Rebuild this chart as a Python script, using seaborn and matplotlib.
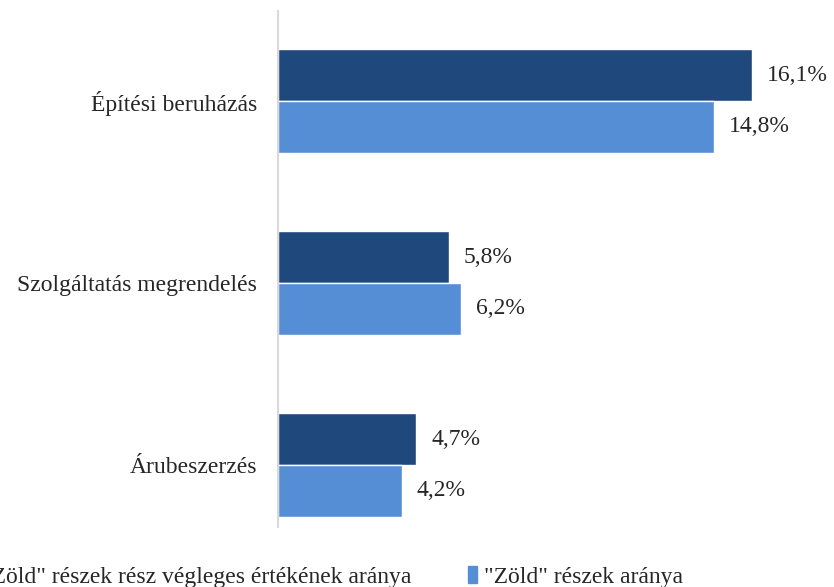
import matplotlib
matplotlib.use("Agg")
import matplotlib.pyplot as plt
import seaborn as sns
import pandas as pd

categories = ["Építési beruházás", "Szolgáltatás megrendelés", "Árubeszerzés"]
series = ['"Zöld" részek rész végleges értékének aránya', '"Zöld" részek aránya']
final_share = [16.1, 5.8, 4.7]
green_share = [14.8, 6.2, 4.2]
colors = ["#1F497D", "#558ED5"]

df = pd.DataFrame({
    "cat": categories * 2,
    "val": final_share + green_share,
    "series": [series[0]] * 3 + [series[1]] * 3,
})

sns.set_style("white")
plt.rcParams["font.family"] = ["Liberation Serif", "DejaVu Serif"]

fig = plt.figure(figsize=(8.34, 5.87), dpi=100)
ax = fig.add_axes([278 / 834, 1 - 527 / 587, 556 / 834, 516 / 587])

sns.barplot(data=df, y="cat", x="val", hue="series", orient="h",
            palette=colors, width=0.566, saturation=1, ax=ax, legend=False)

ax.set_xlim(0, 556 / 29.44)
ax.set_ylim(2 + 62 / 182, -90 / 182)
ax.set_xlabel("")
ax.set_ylabel("")
ax.set_xticks([])
for s in ["top", "right", "bottom"]:
    ax.spines[s].set_visible(False)
ax.spines["left"].set_color("#D9D9D9")
ax.spines["left"].set_linewidth(1.5)
ax.tick_params(axis="y", length=0, pad=15, labelsize=17)

for cont in ax.containers:
    labels = [f"{b.get_width():.1f}".replace(".", ",") + "%" for b in cont]
    ax.bar_label(cont, labels=labels, padding=11, fontsize=17)

# legend is partly cut off on the left, as in the original
handles = [plt.Rectangle((0, 0), 1, 1, color=c) for c in colors]
fig.legend(handles, series, loc="center left", bbox_to_anchor=(-33 / 834, 1 - 577 / 587),
           ncol=2, frameon=False, fontsize=17, handlelength=0.35, handleheight=0.75,
           handletextpad=0.3, columnspacing=2.4, borderaxespad=0, borderpad=0)

fig.savefig("out.png", dpi=100)
